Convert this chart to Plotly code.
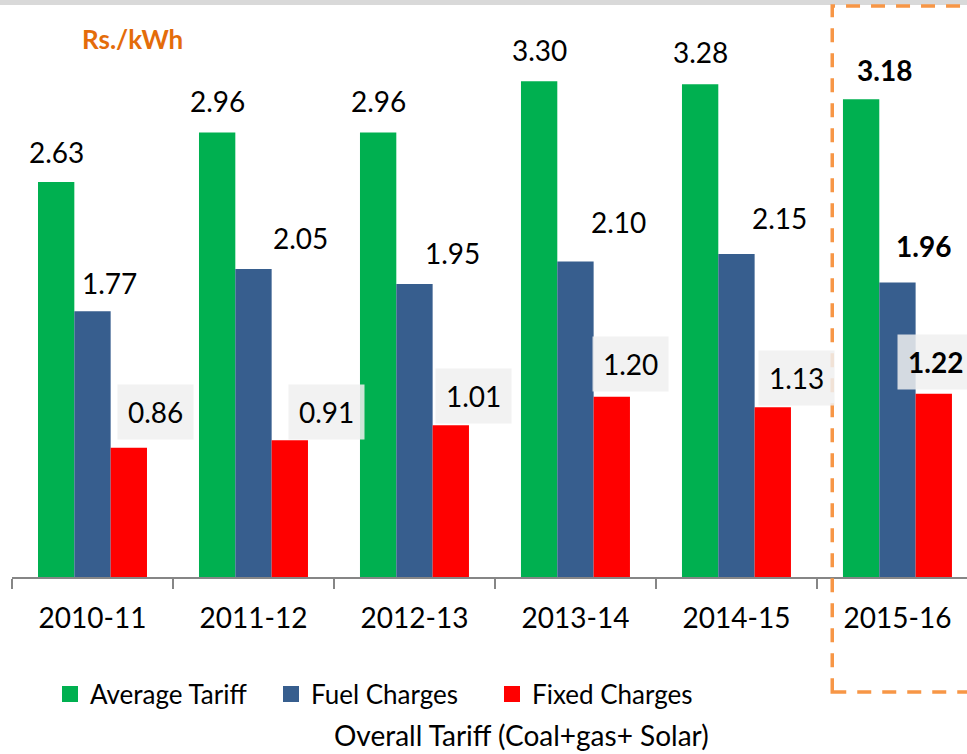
import plotly.graph_objects as go

categories = ["2010-11", "2011-12", "2012-13", "2013-14", "2014-15", "2015-16"]
average_tariff = [2.63, 2.96, 2.96, 3.30, 3.28, 3.18]
fuel_charges = [1.77, 2.05, 1.95, 2.10, 2.15, 1.96]
fixed_charges = [0.86, 0.91, 1.01, 1.20, 1.13, 1.22]
series_names = ["Average Tariff", "Fuel Charges", "Fixed Charges"]

# label placement tweaks (pixels), styling only
green_dx = [0, 0, 0, 0, 0, 23]
green_dy = [30, 31, 31, 31, 32, 29]
blue_dx = [17, 47, 38, 43, 43, 26]
blue_dy = [28, 31, 31, 40, 36, 37]
red_dx = [27, 37, 23, 19, 24, 2]
red_dy = [36, 28, 29, 33, 29, 32]

FONT = "Lato"
colors = ["#00b050", "#375e8e", "#ff0000"]
bar_off = 36  # pixel offset of side bars from group centre

fig = go.Figure()
for name, vals, col in zip(series_names, [average_tariff, fuel_charges, fixed_charges], colors):
    fig.add_trace(go.Bar(name=name, x=categories, y=vals, showlegend=False,
                         marker=dict(color=col, line=dict(width=0))))
# legend entries with larger square swatches
for name, col in zip(series_names, colors):
    fig.add_trace(go.Scatter(name=name, x=[None], y=[None], mode="markers",
                             marker=dict(symbol="square", size=16, color=col)))

annotations = []
def fmt(v, i):
    s = f"{v:.2f}"
    return f"<b>{s}</b>" if i == len(categories) - 1 else s

for i, c in enumerate(categories):
    annotations.append(dict(x=c, y=average_tariff[i], text=fmt(average_tariff[i], i), showarrow=False,
                            xshift=-bar_off + green_dx[i], yshift=green_dy[i], yanchor="middle",
                            font=dict(family=FONT, size=28, color="#000")))
    annotations.append(dict(x=c, y=fuel_charges[i], text=fmt(fuel_charges[i], i), showarrow=False,
                            xshift=blue_dx[i], yshift=blue_dy[i], yanchor="middle",
                            font=dict(family=FONT, size=28, color="#000")))
    annotations.append(dict(x=c, y=fixed_charges[i], text=fmt(fixed_charges[i], i), showarrow=False,
                            xshift=bar_off + red_dx[i], yshift=red_dy[i], yanchor="middle",
                            bgcolor="rgba(240,240,240,0.85)", borderpad=10,
                            font=dict(family=FONT, size=28, color="#000")))

annotations.append(dict(xref="paper", yref="paper", x=(132 - 12) / 955, y=1 - 39 / 577,
                        text="<b>Rs./kWh</b>", showarrow=False, xanchor="center", yanchor="middle",
                        font=dict(family=FONT, size=26, color="#e46c0a")))
annotations.append(dict(xref="paper", yref="paper", x=(521 - 12) / 955, y=1 - 735 / 577,
                        text="Overall Tariff (Coal+gas+ Solar)", showarrow=False, xanchor="center",
                        yanchor="middle", font=dict(family=FONT, size=28, color="#000")))

shapes = [
    dict(type="rect", xref="paper", yref="paper", x0=-0.05, x1=1.05, y0=1 - 5 / 577, y1=1,
         fillcolor="#d9d9d9", line=dict(width=0), layer="above"),
    dict(type="rect", xref="x", yref="paper", x0=4.595, x1=6.2, y0=1 - 692 / 577, y1=1 - 6 / 577,
         line=dict(color="#f79646", width=3.5, dash="14px,11px"), fillcolor="rgba(0,0,0,0)", layer="above"),
]

fig.update_layout(
    width=967, height=754,
    margin=dict(l=12, r=0, t=0, b=177, autoexpand=False),
    plot_bgcolor="white", paper_bgcolor="white",
    barmode="group", bargap=0.323, bargroupgap=0,
    font=dict(family=FONT, color="#000"),
    xaxis=dict(type="category", range=[-0.5, 5.432], showline=True, linecolor="#868686", linewidth=2,
               ticks="outside", tickson="boundaries", ticklen=10, tickcolor="#868686", tickwidth=2,
               ticklabelstandoff=15,
               tickfont=dict(family=FONT, size=28, color="#000"), showgrid=False, fixedrange=True,
               automargin=False),
    yaxis=dict(range=[0, 577 / 150.2], visible=False, showgrid=False, fixedrange=True),
    legend=dict(orientation="h", yref="container", x=(50 - 12) / 955, y=1 - 694 / 754,
                xanchor="left", yanchor="middle", entrywidth=176,
                font=dict(family=FONT, size=26, color="#000"), bgcolor="rgba(0,0,0,0)"),
    annotations=annotations,
    shapes=shapes,
)

fig.write_html("out.html", config={"displayModeBar": False},
               post_script="document.body.style.margin='0px';")
